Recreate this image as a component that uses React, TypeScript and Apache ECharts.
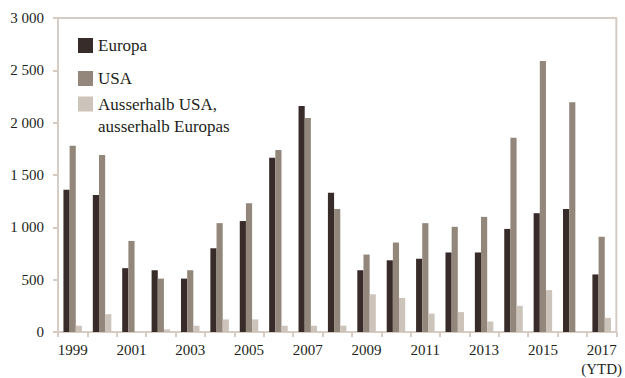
import React, { useEffect, useRef } from "react";
import * as echarts from "echarts";

const years = [
  "1999", "2000", "2001", "2002", "2003", "2004", "2005", "2006", "2007", "2008",
  "2009", "2010", "2011", "2012", "2013", "2014", "2015", "2016", "2017",
];

const europa = [1360, 1310, 610, 590, 510, 800, 1060, 1665, 2160, 1330, 590, 685, 700, 760, 760, 985, 1135, 1175, 550];
const usa = [1780, 1690, 870, 510, 590, 1040, 1230, 1740, 2045, 1175, 740, 855, 1040, 1005, 1100, 1855, 2590, 2195, 910];
const ausserhalb = [60, 170, 0, 25, 60, 120, 120, 60, 60, 60, 360, 325, 175, 190, 100, 250, 400, 0, 135];

const seriesNames = ["Europa", "USA", "Ausserhalb USA,\nausserhalb Europas"];
const seriesColors = ["#382c2a", "#93867a", "#ccc3bb"];

const FONT = "Liberation Serif";
const TEXT = "#231f20";
const FRAME = "#d6ccc3";

const fmtThousands = (v: number) =>
  String(v).replace(/\B(?=(\d{3})+(?!\d))/g, " ");

export default function App() {
  const ref = useRef<HTMLDivElement>(null);

  useEffect(() => {
    if (!ref.current) return;
    const chart = echarts.init(ref.current, undefined, { renderer: "svg" });
    const values = [europa, usa, ausserhalb];

    chart.setOption({
      animation: false,
      backgroundColor: "#ffffff",
      grid: {
        left: 58,
        top: 18,
        width: 561,
        height: 318,
        show: true,
        borderColor: FRAME,
        borderWidth: 2,
        backgroundColor: "transparent",
      },
      legend: [
        {
          data: [seriesNames[0], seriesNames[1]],
          orient: "vertical",
          left: 78,
          top: 37,
          padding: 0,
          itemWidth: 15,
          itemHeight: 15,
          itemGap: 16,
          icon: "rect",
          selectedMode: false,
          textStyle: { fontFamily: FONT, fontSize: 17, color: TEXT, lineHeight: 15 },
        },
        {
          data: [seriesNames[2]],
          orient: "vertical",
          left: 78,
          top: 71,
          padding: 0,
          itemWidth: 15,
          itemHeight: 15,
          icon: "rect",
          selectedMode: false,
          // a blank first line keeps the first text line level with the swatch
          formatter: (name: string) => "\n" + name,
          textStyle: { fontFamily: FONT, fontSize: 17, color: TEXT, lineHeight: 22 },
        },
      ],
      xAxis: {
        type: "category",
        data: years,
        axisLine: { lineStyle: { color: FRAME, width: 2 } },
        axisTick: {
          show: true,
          interval: 0,
          alignWithLabel: false,
          length: 5,
          lineStyle: { color: FRAME, width: 2 },
        },
        axisLabel: {
          interval: 1,
          margin: 8,
          fontFamily: FONT,
          fontSize: 15,
          lineHeight: 19,
          color: TEXT,
          formatter: (v: string) => (v === "2017" ? "2017\n(YTD)" : v),
        },
      },
      yAxis: {
        type: "value",
        min: 0,
        max: 3000,
        interval: 500,
        splitLine: { show: false },
        axisLine: { show: true, lineStyle: { color: FRAME, width: 2 } },
        axisTick: { show: true, length: 5, lineStyle: { color: FRAME, width: 2 } },
        axisLabel: {
          margin: 14,
          fontFamily: FONT,
          fontSize: 15,
          color: TEXT,
          formatter: (v: number) => fmtThousands(v),
        },
      },
      series: seriesNames.map((name, i) => ({
        name,
        type: "bar",
        data: values[i],
        barWidth: "21%",
        barGap: "0%",
        itemStyle: { color: seriesColors[i] },
      })),
    });

    return () => chart.dispose();
  }, []);

  return (
    <div
      ref={ref}
      style={{ position: "absolute", left: 0, top: 0, width: 625, height: 378 }}
    />
  );
}
